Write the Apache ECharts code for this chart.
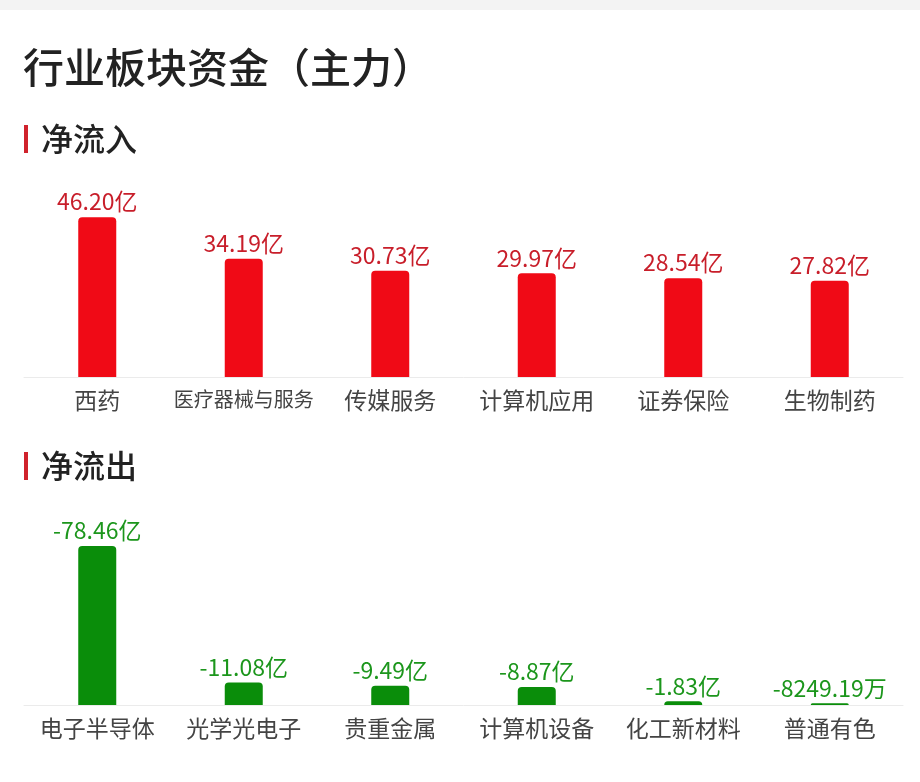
<!DOCTYPE html>
<html>
<head>
<meta charset="utf-8">
<script src="https://cdn.jsdelivr.net/npm/echarts@6/dist/echarts.min.js"></script>
<style>
  html, body { margin: 0; padding: 0; background: #fff; }
  #chart { width: 920px; height: 782px; }
</style>
</head>
<body>
<div id="chart"></div>
<script>
// 净流入（亿）
const inflowNames = ['西药', '医疗器械与服务', '传媒服务', '计算机应用', '证券保险', '生物制药']
const inflowValues = [46.20, 34.19, 30.73, 29.97, 28.54, 27.82]
const inflowLabels = ['46.20亿', '34.19亿', '30.73亿', '29.97亿', '28.54亿', '27.82亿']

// 净流出（亿）
const outflowNames = ['电子半导体', '光学光电子', '贵重金属', '计算机设备', '化工新材料', '普通有色']
const outflowValues = [-78.46, -11.08, -9.49, -8.87, -1.83, -0.824919]
const outflowLabels = ['-78.46亿', '-11.08亿', '-9.49亿', '-8.87亿', '-1.83亿', '-8249.19万']

const FONT = '"Noto Sans CJK SC", "Noto Sans", sans-serif'

const chart = echarts.init(document.getElementById('chart'))

function catAxis(gridIndex, names) {
  return {
    type: 'category',
    gridIndex,
    data: names.map(n => n.length > 5
      ? { value: n, textStyle: { fontSize: 20 } }
      : n),
    axisTick: { show: false },
    axisLine: { lineStyle: { color: '#ebebeb', width: 1 } },
    axisLabel: { color: '#444', fontSize: 23, fontFamily: FONT, margin: 12, interval: 0 },
  }
}

function barSeries(idx, values, labels, barColor, labelColor) {
  return {
    type: 'bar',
    xAxisIndex: idx,
    yAxisIndex: idx,
    barWidth: 38,
    data: values,
    itemStyle: { color: barColor, borderRadius: [4, 4, 0, 0] },
    label: {
      show: true,
      position: 'top',
      distance: 4,
      color: labelColor,
      fontSize: 23,
      fontFamily: FONT,
      formatter: p => labels[p.dataIndex],
    },
    silent: true,
  }
}

chart.setOption({
  backgroundColor: '#fff',
  animation: false,
  graphic: [
    { type: 'rect', shape: { x: 0, y: 0, width: 920, height: 10 }, style: { fill: '#f3f3f3' } },
    { type: 'text', x: 23, y: 67, style: { text: '行业板块资金（主力）', fontSize: 41, fontWeight: 500, fontFamily: FONT, fill: '#222', verticalAlign: 'middle' } },
    { type: 'rect', shape: { x: 24, y: 125, width: 4, height: 28 }, style: { fill: '#d0222c' } },
    { type: 'text', x: 41, y: 139, style: { text: '净流入', fontSize: 32, fontWeight: 500, fontFamily: FONT, fill: '#222', verticalAlign: 'middle' } },
    { type: 'rect', shape: { x: 24, y: 452, width: 4, height: 28 }, style: { fill: '#d0222c' } },
    { type: 'text', x: 41, y: 466, style: { text: '净流出', fontSize: 32, fontWeight: 500, fontFamily: FONT, fill: '#222', verticalAlign: 'middle' } },
  ],
  grid: [
    { left: 24, right: 17, top: 204, height: 173 },
    { left: 24, right: 17, top: 543, height: 162 },
  ],
  xAxis: [catAxis(0, inflowNames), catAxis(1, outflowNames)],
  yAxis: [
    { type: 'value', gridIndex: 0, min: 0, max: 50, show: false },
    { type: 'value', gridIndex: 1, min: -80, max: 0, inverse: true, show: false },
  ],
  series: [
    barSeries(0, inflowValues, inflowLabels, '#f00a16', '#c81e2a'),
    barSeries(1, outflowValues, outflowLabels, '#0a8d0a', '#1c961c'),
  ],
})
</script>
</body>
</html>
